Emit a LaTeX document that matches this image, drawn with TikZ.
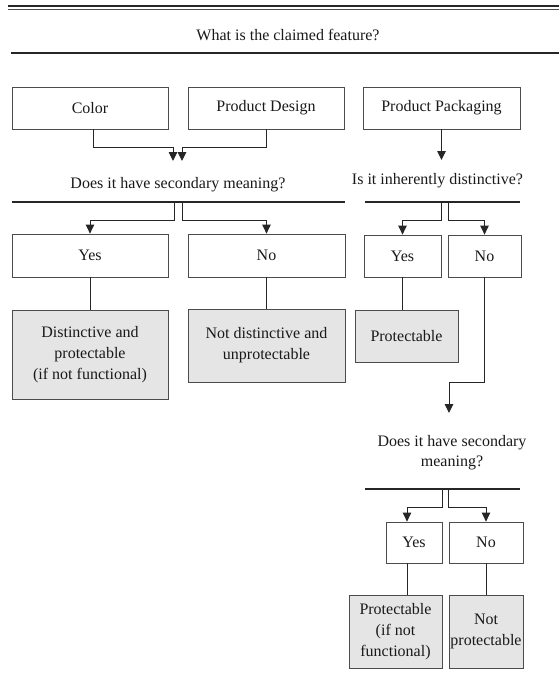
\documentclass[tikz,border=0pt]{standalone}
\usepackage{fontspec}
\setmainfont{Liberation Serif}
\usetikzlibrary{arrows.meta,positioning}

\begin{document}
\begin{tikzpicture}[x=1pt,y=-1pt,
  box/.style={draw=black!70, line width=0.8pt, inner sep=0pt, align=center,
    text=black!90, font=\fontsize{16}{21}\selectfont},
  endbox/.style={box, fill=black!10},
  question/.style={inner sep=0pt, align=center, text=black!90,
    font=\fontsize{16}{20}\selectfont},
  link/.style={draw=black!85, line width=0.9pt},
  arr/.style={link, -{Triangle[width=8.5pt,length=9pt]}},
  rulebar/.style={draw=black!85, line width=1.6pt}]
\useasboundingbox (0,0) rectangle (559,688);

% header
\draw[rulebar] (8,6) -- (559,6);
\draw[line width=0.8pt, black!70] (8,9.5) -- (559,9.5);
\node[question, anchor=base] (feature) at (288,40) {What is the claimed feature?};
\draw[rulebar] (11,53) -- (559,53);

% claimed features
\node[box, minimum width=156pt, minimum height=42pt] (color) at (90,108) {Color};
\node[box, minimum width=156pt, minimum height=42pt] (design) at (266,108) {Product Design};
\node[box, minimum width=157pt, minimum height=42pt] (packaging) at (441.5,108) {Product Packaging};
\coordinate (c1) at (173,161);
\coordinate (c2) at (182,161);
\coordinate (c3) at (441.5,160);
\draw[arr] ([xshift=3pt]color.south) -- ++(0,18) -| (c1);
\draw[arr] (design.south) -- ++(0,18) -| (c2);
\draw[arr] (packaging.south) -- (c3);

% color and design: secondary meaning
\node[question, anchor=base] (meaning1) at (178,188) {Does it have secondary meaning?};
\draw[rulebar] (12,202) -- (345,202);
\coordinate (s1) at (174,202);
\coordinate (s2) at (182,202);
\node[box, minimum width=156pt, minimum height=43pt] (yes1) at (90,255.5) {Yes};
\node[box, minimum width=157pt, minimum height=43pt] (no1) at (266.5,255.5) {No};
\draw[arr] (s1) -- ++(0,18) -| (yes1.north);
\draw[arr] (s2) -- ++(0,18) -| (no1.north);
\node[endbox, minimum width=156pt, minimum height=89pt] (dist) at (90,354.5)
  {Distinctive and\\protectable\\(if not functional)};
\node[endbox, minimum width=157pt, minimum height=73pt] (notdist) at (266.5,345.5)
  {Not distinctive and\\unprotectable};
\draw[link] (yes1) -- (dist);
\draw[link] (no1) -- (notdist);

% packaging: inherently distinctive
\node[question, anchor=base] (inherent) at (437.5,184) {Is it inherently distinctive?};
\draw[rulebar] (365,202) -- (520,202);
\coordinate (s3) at (441,202);
\coordinate (s4) at (448,202);
\node[box, minimum width=77pt, minimum height=42pt] (yes2) at (402.5,256) {Yes};
\node[box, minimum width=73pt, minimum height=42pt] (no2) at (484.5,256) {No};
\draw[arr] (s3) -- ++(0,18) -| (yes2.north);
\draw[arr] (s4) -- ++(0,18) -| (no2.north);
\node[endbox, minimum width=103pt, minimum height=52pt] (prot) at (406.5,336) {Protectable};
\draw[link] (yes2.south) -- (yes2.south |- prot.north);
\coordinate (c4) at (449,413);
\draw[arr] (no2.south) -- ++(0,105) -| (c4);

% packaging: secondary meaning
\node[question] (meaning2) at (452,453) {Does it have secondary\\meaning?};
\draw[rulebar] (365,489) -- (520,489);
\coordinate (s5) at (442,489);
\coordinate (s6) at (448,489);
\node[box, minimum width=56pt, minimum height=41pt] (yes3) at (414,542.5) {Yes};
\node[box, minimum width=74pt, minimum height=41pt] (no3) at (486,542.5) {No};
\draw[arr] (s5) -- ++(0,18) -| ([xshift=-7pt]yes3.north);
\draw[arr] (s6) -- ++(0,18) -| (no3.north);
\node[endbox, minimum width=93pt, minimum height=73pt] (prot3) at (395.5,631.5)
  {Protectable\\(if not\\functional)};
\node[endbox, minimum width=74pt, minimum height=73pt] (notprot) at (486,631.5)
  {Not\\protectable};
\draw[link] ([xshift=-7pt]yes3.south) -- ([xshift=-7pt]yes3.south |- prot3.north);
\draw[link] (no3) -- (notprot);
\end{tikzpicture}
\end{document}
